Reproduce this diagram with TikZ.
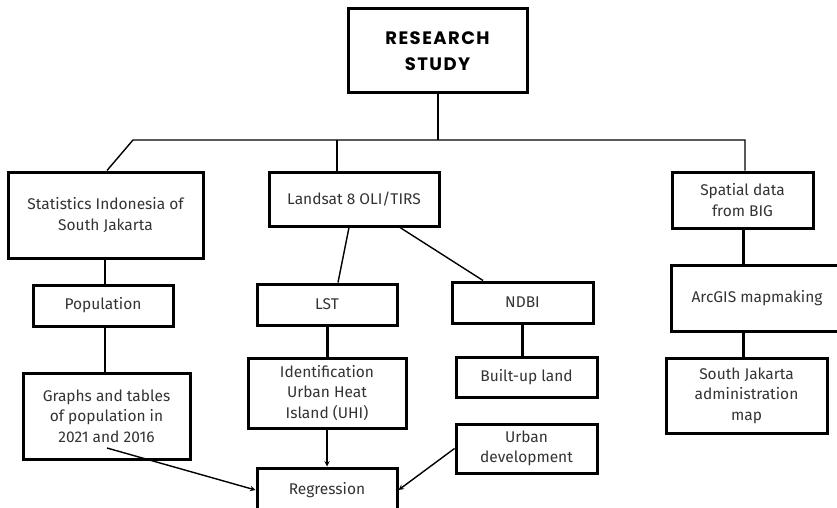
\documentclass[tikz,border=0pt]{standalone}
\usepackage{fontspec}
\setmainfont{Fira Sans}
\newfontfamily\titlefont{Poppins}[LetterSpace=8]
\usepackage{tikz}
\usetikzlibrary{positioning}
\definecolor{textgray}{HTML}{333333}

\begin{document}
\begin{tikzpicture}[x=1pt, y=-1pt,
  box/.style={draw, line width=3pt, align=center, text=textgray,
    inner sep=0pt, font=\fontsize{15.5}{20.5}\selectfont},
  link/.style={line width=1.4pt},
  boldlink/.style={line width=3pt},
  >=stealth]

\useasboundingbox (0,0) rectangle (837,508);

% Top
\node[box, minimum width=179pt, minimum height=84pt,
  font=\titlefont\bfseries\fontsize{18}{26}\selectfont, text=black]
  (study) at (437.5,51) {RESEARCH\\STUDY};

% Second row
\node[box, minimum width=195pt, minimum height=86pt] (stats) at (105.5,215)
  {Statistics Indonesia of\\South Jakarta};
\node[box, minimum width=170pt, minimum height=54pt] (landsat) at (354,199)
  {Landsat 8 OLI/TIRS};
\node[box, minimum width=141pt, minimum height=56pt] (spatial) at (742.5,200)
  {Spatial data\\from BIG};

% Third row
\node[box, minimum width=140pt, minimum height=41pt] (pop) at (103,305.5) {Population};
\node[box, minimum width=140pt, minimum height=41pt] (lst) at (327,304.5) {LST};
\node[box, minimum width=141pt, minimum height=41pt] (ndbi) at (522.5,302.5) {NDBI};
\node[box, minimum width=172pt, minimum height=66pt] (arcgis) at (757,298)
  {ArcGIS mapmaking};

% Fourth row
\node[box, minimum width=167pt, minimum height=86pt] (graphs) at (106.5,416)
  {Graphs and tables\\of population in\\2021 and 2016};
\node[box, minimum width=158pt, minimum height=70pt] (ident) at (327,393)
  {Identification\\Urban Heat\\Island (UHI)};
\node[box, minimum width=141pt, minimum height=40pt] (builtup) at (526.5,377)
  {Built-up land};
\node[box, minimum width=161pt, minimum height=75pt] (sjakarta) at (746.5,395.5)
  {South Jakarta\\administration\\map};
\node[box, minimum width=141pt, minimum height=49pt] (urban) at (526.5,448.5)
  {Urban\\development};

% Bottom
\node[box, minimum width=140pt, minimum height=44pt] (regr) at (327,490) {Regression};

% Bus from the top box
\coordinate (bus) at (438,140);
\coordinate (busL) at (133,140);
\coordinate (busR) at (745,140);
\coordinate (ndbiX) at (522,0);
\coordinate (mapX) at (743,0);
\draw[link] (study.south -| bus) -- (bus);
\draw[link] ([xshift=1.5pt]stats.north) -- (busL) -- (busR) -- (busR |- spatial.north);
\draw[link] ([xshift=-17pt]landsat.north) -- ([xshift=-17pt]landsat.north |- bus);

% Landsat branches
\draw[link] ([xshift=-5pt]landsat.south) -- ([xshift=11pt]lst.north);
\draw[link] ([xshift=46pt]landsat.south) -- ([xshift=-39.5pt]ndbi.north);

% Left column
\draw[link] ([xshift=-0.5pt]stats.south) -- ([xshift=-0.5pt]stats.south |- pop.north);
\draw[link] ([xshift=-0.5pt]stats.south |- pop.south) -- ([xshift=-0.5pt]stats.south |- graphs.north);

% Middle and right columns
\draw[boldlink] (lst) -- (ident);
\draw[boldlink] (ndbi.south -| ndbiX) -- (builtup.north -| ndbiX);
\draw[boldlink] (spatial.south -| mapX) -- (arcgis.north -| mapX);
\draw[boldlink] (arcgis.south -| mapX) -- (sjakarta.north -| mapX);

% Arrows into Regression
\draw[link, ->] (ident) -- (regr);
\draw[link, ->] ([xshift=0.5pt, yshift=-32pt]graphs.center) -- (regr.west);
\draw[link, ->] (urban.west) -- (regr.east);

\end{tikzpicture}
\end{document}
